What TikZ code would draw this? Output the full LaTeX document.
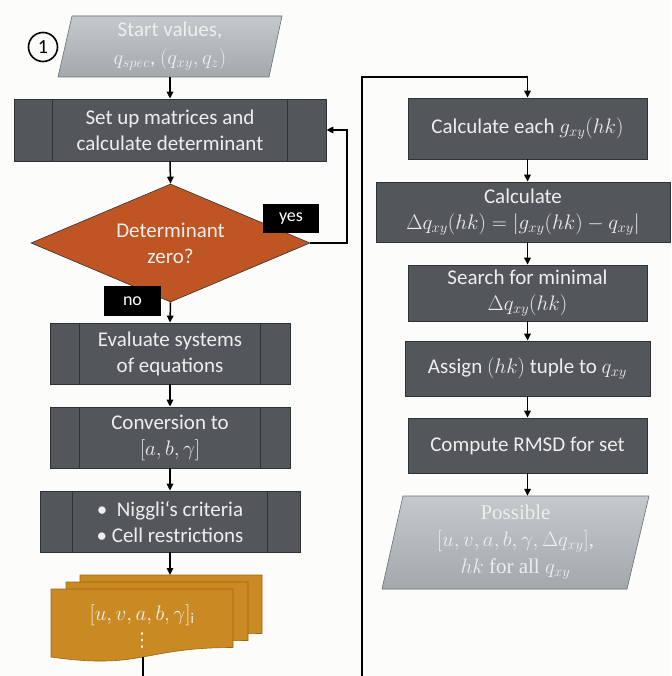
\RequirePackage{fix-cm}
\documentclass[tikz,border=0pt]{standalone}
\usepackage{fontspec}
\setmainfont{Carlito}
\newfontfamily\serifface{Liberation Serif}
\newfontfamily\symface{DejaVu Sans}
\usetikzlibrary{arrows.meta,shapes.geometric,calc}
\definecolor{bg}{HTML}{FCFCFA}
\definecolor{boxfill}{HTML}{53575B}
\definecolor{boxline}{HTML}{2F3336}
\definecolor{txt}{HTML}{EEEEEE}
\definecolor{decfill}{HTML}{BF5522}
\definecolor{docfill}{HTML}{C98A24}
\definecolor{docline}{HTML}{9C6614}
\definecolor{pgtop}{HTML}{C4C9CC}
\definecolor{pgbot}{HTML}{A2A8AC}
\definecolor{pgline}{HTML}{6E7478}
\newcommand\docpage[2]{%
  \filldraw[fill=docfill, draw=docline, line width=0.6pt]
    (#1,#2) -- ({#1+182},#2) -- ({#1+182},{#2+58.5})
    .. controls ({#1+91},{#2+58.5}) and ({#1+91},{#2+81}) .. (#1,{#2+68}) -- cycle;}
\begin{document}
\begin{tikzpicture}[x=1pt,y=-1pt,
  every node/.style={font=\fontsize{21}{26}\selectfont, text=txt},
  proc/.style={rectangle, draw=boxline, line width=0.8pt, fill=boxfill, align=center, inner sep=0pt},
  ppline/.style={draw=boxline, line width=0.8pt},
  arr/.style={line width=1.5pt, -{Triangle[length=7pt,width=6.5pt]}},
  tag/.style={rectangle, fill=black, text=white, inner sep=0pt, font=\fontsize{18}{18}\selectfont},
  decision/.style={diamond, shape aspect=2.36, draw=boxline, line width=0.6pt, fill=decfill, inner sep=0pt, align=center},
  pgram/.style={fill=pgbot, top color=pgtop, bottom color=pgbot, draw=pgline, line width=0.6pt},
  plain/.style={rectangle, inner sep=0pt, align=center}
]
\fill[bg] (0,0) rectangle (671,676);
\useasboundingbox (0,0) rectangle (671,676);

% start parallelogram
\path[pgram] (72,16) -- (282,16) -- (269,77) -- (58,77) -- cycle;
\node[plain, minimum width=211pt, minimum height=61pt, font=\fontsize{21}{28}\selectfont] (start) at (170,46.5)
  {Start values,\\$q_{spec}$, $(q_{xy},q_z)$};
\node[circle, draw=black, line width=1.6pt, minimum size=29pt, inner sep=0pt, text=black, font=\fontsize{20}{20}\selectfont] (num) at (43,47) {1};

% left column
\node[proc, minimum width=312pt, minimum height=62pt] (setup) at (170,130) {Set up matrices and\\calculate determinant};
\node[decision, minimum width=279pt, minimum height=118pt] (dec) at (170.5,243) {Determinant\\zero?};
\node[proc, minimum width=240pt, minimum height=61pt] (eval) at (170,353.5) {Evaluate systems\\of equations};
\node[proc, minimum width=240pt, minimum height=61pt] (conv) at (170,437.5) {Conversion to\\$[a,b,\gamma]$};
\node[proc, minimum width=260pt, minimum height=61pt] (nig) at (170,521.5) {•\ \ Niggli‘s criteria\\• Cell restrictions};
\foreach \n/\d in {setup/39,eval/30,conv/30,nig/33}{
  \draw[ppline] ([xshift=\d pt]\n.north west) -- ([xshift=\d pt]\n.south west);
  \draw[ppline] ([xshift=-\d pt]\n.north east) -- ([xshift=-\d pt]\n.south east);
}

% documents
\docpage{80}{575}
\docpage{66}{582}
\docpage{51}{589}
\node[plain] (docs) at (142,615) {$[u,v,a,b,\gamma]_{\mathrm{i}}$};
\node[plain, font=\symface\fontsize{19}{19}\selectfont] (dots) at (142,641) {⋮};
\coordinate (docbot) at (143,657);

% right column
\node[proc, minimum width=239pt, minimum height=61pt] (calc1) at (527.5,128.5) {Calculate each $g_{xy}(hk)$};
\node[proc, minimum width=294pt, minimum height=60pt] (calc2) at (523,212) {Calculate\\$\Delta q_{xy}(hk)=|g_{xy}(hk)-q_{xy}|$};
\node[proc, minimum width=239pt, minimum height=56pt] (search) at (527.5,293) {Search for minimal\\$\Delta q_{xy}(hk)$};
\node[proc, minimum width=245pt, minimum height=55pt] (assign) at (527.5,368.5) {Assign $(hk)$ tuple to $q_{xy}$};
\node[proc, minimum width=239pt, minimum height=55pt] (rmsd) at (527.5,445.5) {Compute RMSD for set};
\path[pgram] (403,496) -- (649,496) -- (627,589) -- (382,589) -- cycle;
\node[plain, minimum width=245pt, minimum height=93pt, font=\serifface\fontsize{21}{27}\selectfont] (poss) at (515.5,542.5)
  {Possible\\$[u,v,a,b,\gamma,\Delta q_{xy}]$,\\$hk$ for all $q_{xy}$};

% connectors
\draw[arr] (start.south) -- (setup.north);
\draw[arr] (setup.south) -- (dec.north);
\coordinate (yl) at (347,243);
\draw[arr] (dec.east) -- (yl) |- (setup.east);
\draw[arr] (dec.south) -- (eval.north);
\draw[arr] (eval.south) -- (conv.north);
\draw[arr] (conv.south) -- (nig.north);
\draw[arr] (nig.south) -- (170,575);
\coordinate (lowL) at (143,720);
\coordinate (lowR) at (362,720);
\coordinate (topR) at (362,77);
\draw[arr] (docbot) -- (lowL) -- (lowR) -- (topR) -| (calc1.north);
\draw[arr] (calc1.south) -- (calc1.south |- calc2.north);
\draw[arr] (search.north |- calc2.south) -- (search.north);
\draw[arr] (search.south) -- (assign.north);
\draw[arr] (assign.south) -- (rmsd.north);
\draw[arr] (rmsd.south) -- (rmsd.south |- poss.north);

% labels
\node[tag, minimum width=56pt, minimum height=29pt] (yes) at (291,218.5) {yes};
\node[tag, minimum width=57pt, minimum height=30pt] (no) at (132.5,301) {no};
\end{tikzpicture}
\end{document}
